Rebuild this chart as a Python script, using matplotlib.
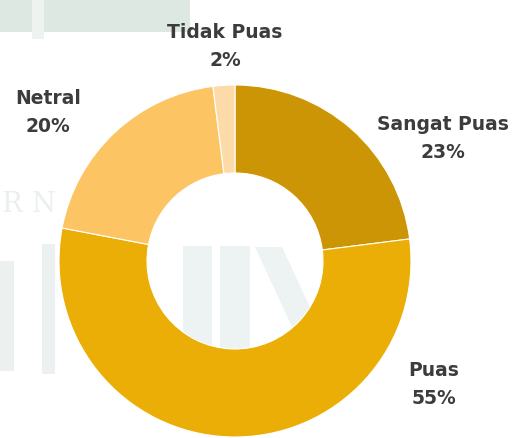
import matplotlib.pyplot as plt
from matplotlib.patches import Rectangle, Polygon

kategori = ["Sangat Puas", "Puas", "Netral", "Tidak Puas"]
persen = [23, 55, 20, 2]
warna = ["#CC9505", "#EBAE06", "#FCC463", "#FDDBA8"]

# posisi label (piksel, origin kiri atas)
posisi_label = [(443, 138), (434, 385), (48, 112), (225, 46)]

W, H = 530, 439
fig = plt.figure(figsize=(W / 100, H / 100), dpi=100)
ax = fig.add_axes([0, 0, 1, 1])


def kotak(x0, y0, x1, y1, c):
    ax.add_patch(Rectangle((x0, H - y1), x1 - x0, y1 - y0, color=c, zorder=0, lw=0))


# watermark samar di latar belakang
kotak(0, 0, 190, 33, "#DEE8E3")
kotak(32, 0, 44, 40, "#EEF3F0")
kotak(0, 262, 14, 372, "#ECF1F0")
kotak(42, 245, 55, 375, "#EBF1F0")
kotak(183, 247, 212, 380, "#EDF2F2")
kotak(220, 247, 250, 380, "#EDF2F2")
ax.add_patch(Polygon([(255, H - 248), (282, H - 248), (320, H - 330), (300, H - 345)],
                     closed=True, color="#EDF2F2", zorder=0, lw=0))
ax.text(2, H - 212, "R N", fontsize=20, family="DejaVu Serif", color="#EBEFEE",
        zorder=0, va="baseline")

ax.pie(persen, colors=warna, radius=176, center=(235, H - 262),
       startangle=90, counterclock=False,
       wedgeprops=dict(width=88, edgecolor="white", linewidth=0.8))

for nama, p, (x, y) in zip(kategori, persen, posisi_label):
    ax.text(x, H - y, f"{nama}\n{p}%", ha="center", va="center",
            fontsize=13.5, fontweight="bold", family="DejaVu Sans",
            color="#3C3C3C", linespacing=1.6, zorder=5)

ax.set_xlim(0, W)
ax.set_ylim(0, H)
ax.set_aspect("equal")
ax.axis("off")

fig.savefig("out.png", dpi=100)
